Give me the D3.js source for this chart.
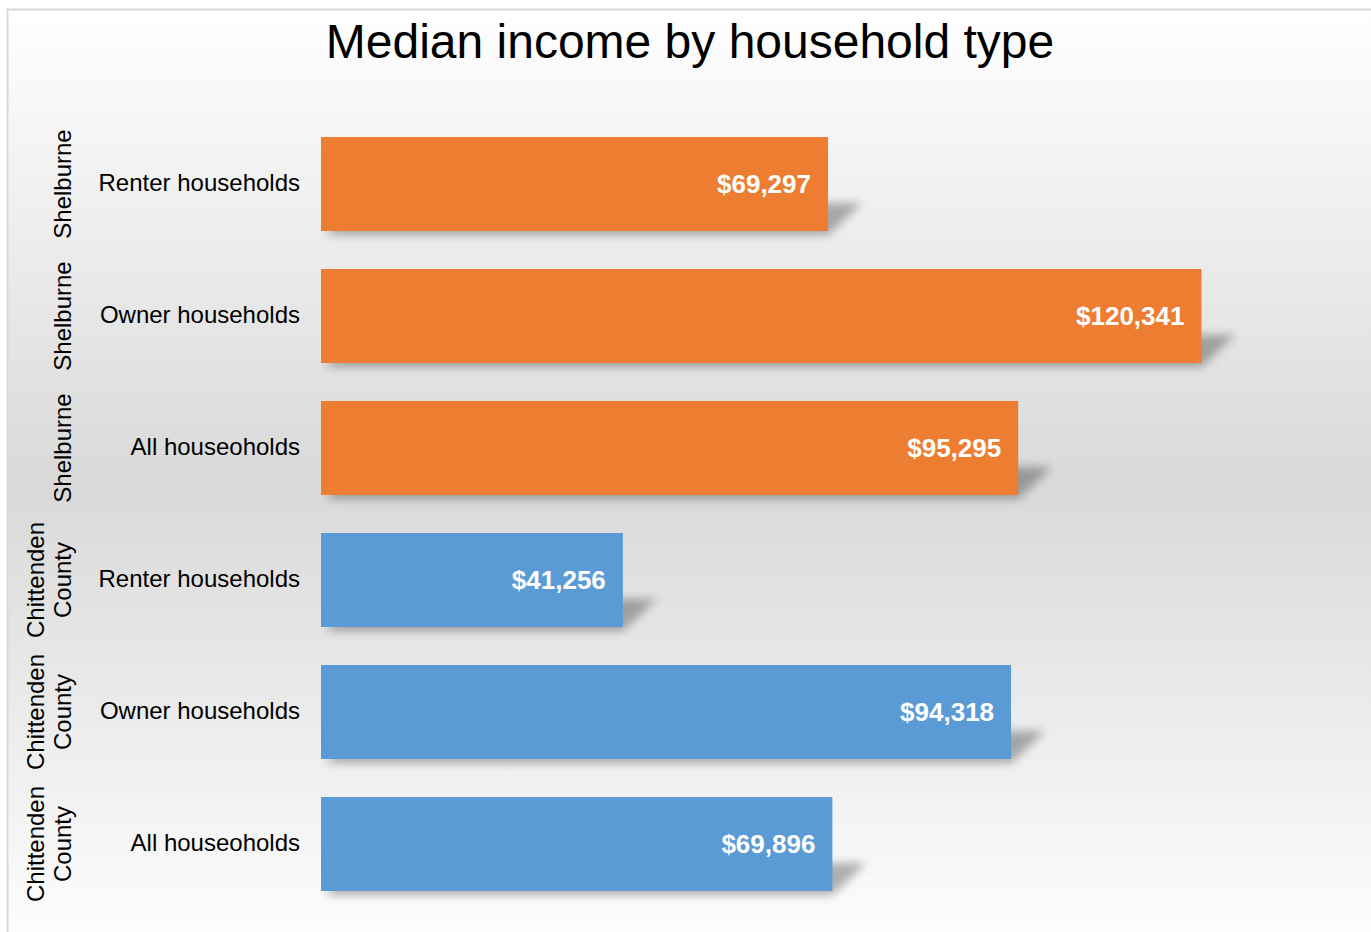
<!DOCTYPE html>
<html>
<head>
<meta charset="utf-8">
<style>
  body { margin: 0; background: #fff; }
  text { font-family: "Liberation Sans", Arial, sans-serif; }
</style>
</head>
<body>
<svg width="1371" height="932"></svg>
<script src="https://d3js.org/d3.v7.min.js"></script>
<script>
// data, top to bottom as drawn
var groups = ["Shelburne", "Shelburne", "Shelburne", "Chittenden County", "Chittenden County", "Chittenden County"];
var categories = ["Renter households", "Owner households", "All houseoholds", "Renter households", "Owner households", "All houseoholds"];
var values = [69297, 120341, 95295, 41256, 94318, 69896];
var groupColors = {"Shelburne": "#ED7D31", "Chittenden County": "#5B9BD5"};

var svg = d3.select("svg");
var defs = svg.append("defs");

var grad = defs.append("linearGradient")
    .attr("id", "bg")
    .attr("x1", 0).attr("y1", 0).attr("x2", 0).attr("y2", 1);
grad.append("stop").attr("offset", "0%").attr("stop-color", "#ffffff");
grad.append("stop").attr("offset", "50%").attr("stop-color", "#d9d9d9");
grad.append("stop").attr("offset", "100%").attr("stop-color", "#ffffff");

defs.append("filter")
    .attr("id", "blur")
    .attr("x", "-20%").attr("y", "-50%").attr("width", "140%").attr("height", "200%")
  .append("feGaussianBlur")
    .attr("stdDeviation", 5);

// chart frame
svg.append("rect")
    .attr("x", 7.5)
    .attr("y", 9.5)
    .attr("width", 1400)
    .attr("height", 950)
    .attr("fill", "url(#bg)")
    .attr("stroke", "#d9d9d9")
    .attr("stroke-width", 2);

svg.append("text")
    .attr("x", 690)
    .attr("y", 58)
    .attr("text-anchor", "middle")
    .attr("font-size", "48px")
    .attr("fill", "#000")
    .text("Median income by household type");

var rows = d3.range(values.length);

var x = d3.scaleLinear()
    .domain([0, 140000])
    .range([321, 321 + 140000 * 507 / 69297]);

var y = d3.scaleBand()
    .domain(rows)
    .range([118, 910])
    .paddingInner(0.288)
    .paddingOuter(0.144);

// shadows
var sh = 28, sk = 34;
svg.append("g")
    .selectAll("path")
    .data(rows)
    .join("path")
    .attr("d", function(i) {
      var x0 = x(0), x1 = x(values[i]), yb = y(i) + y.bandwidth();
      return "M" + (x0 + 4) + "," + (yb + 4) +
             "L" + x1 + "," + (yb + 4) +
             "L" + (x1 + sk) + "," + (yb - sh) +
             "L" + (x0 + sk) + "," + (yb - sh) + "Z";
    })
    .attr("fill", "#000")
    .attr("opacity", 0.3)
    .attr("filter", "url(#blur)");

// bars
svg.append("g")
    .selectAll("rect")
    .data(rows)
    .join("rect")
    .attr("x", x(0))
    .attr("y", function(i) { return y(i); })
    .attr("width", function(i) { return x(values[i]) - x(0); })
    .attr("height", y.bandwidth())
    .attr("fill", function(i) { return groupColors[groups[i]]; });

// value labels
var fmt = d3.format("$,");
svg.append("g")
    .selectAll("text")
    .data(rows)
    .join("text")
    .attr("x", function(i) { return x(values[i]) - 17; })
    .attr("y", function(i) { return y(i) + y.bandwidth() / 2; })
    .attr("dy", "0.36em")
    .attr("text-anchor", "end")
    .attr("font-size", "26px")
    .attr("font-weight", "bold")
    .attr("fill", "#fff")
    .text(function(i) { return fmt(values[i]); });

// category labels
svg.append("g")
    .selectAll("text")
    .data(rows)
    .join("text")
    .attr("x", 300)
    .attr("y", function(i) { return y(i) + y.bandwidth() / 2; })
    .attr("dy", "0.3em")
    .attr("text-anchor", "end")
    .attr("font-size", "24px")
    .attr("fill", "#000")
    .text(function(i) { return categories[i]; });

// group labels, rotated
var gl = svg.append("g")
    .selectAll("text")
    .data(rows)
    .join("text")
    .attr("transform", function(i) {
      return "translate(63," + (y(i) + y.bandwidth() / 2) + ") rotate(-90)";
    })
    .attr("text-anchor", "middle")
    .attr("font-size", "24px")
    .attr("fill", "#000");

gl.each(function(i) {
  var words = groups[i].split(" ");
  var t = d3.select(this);
  var n = words.length;
  words.forEach(function(w, k) {
    t.append("tspan")
      .attr("x", 0)
      .attr("y", (k - (n - 1)) * 27 + 8)
      .text(w);
  });
});
</script>
</body>
</html>
